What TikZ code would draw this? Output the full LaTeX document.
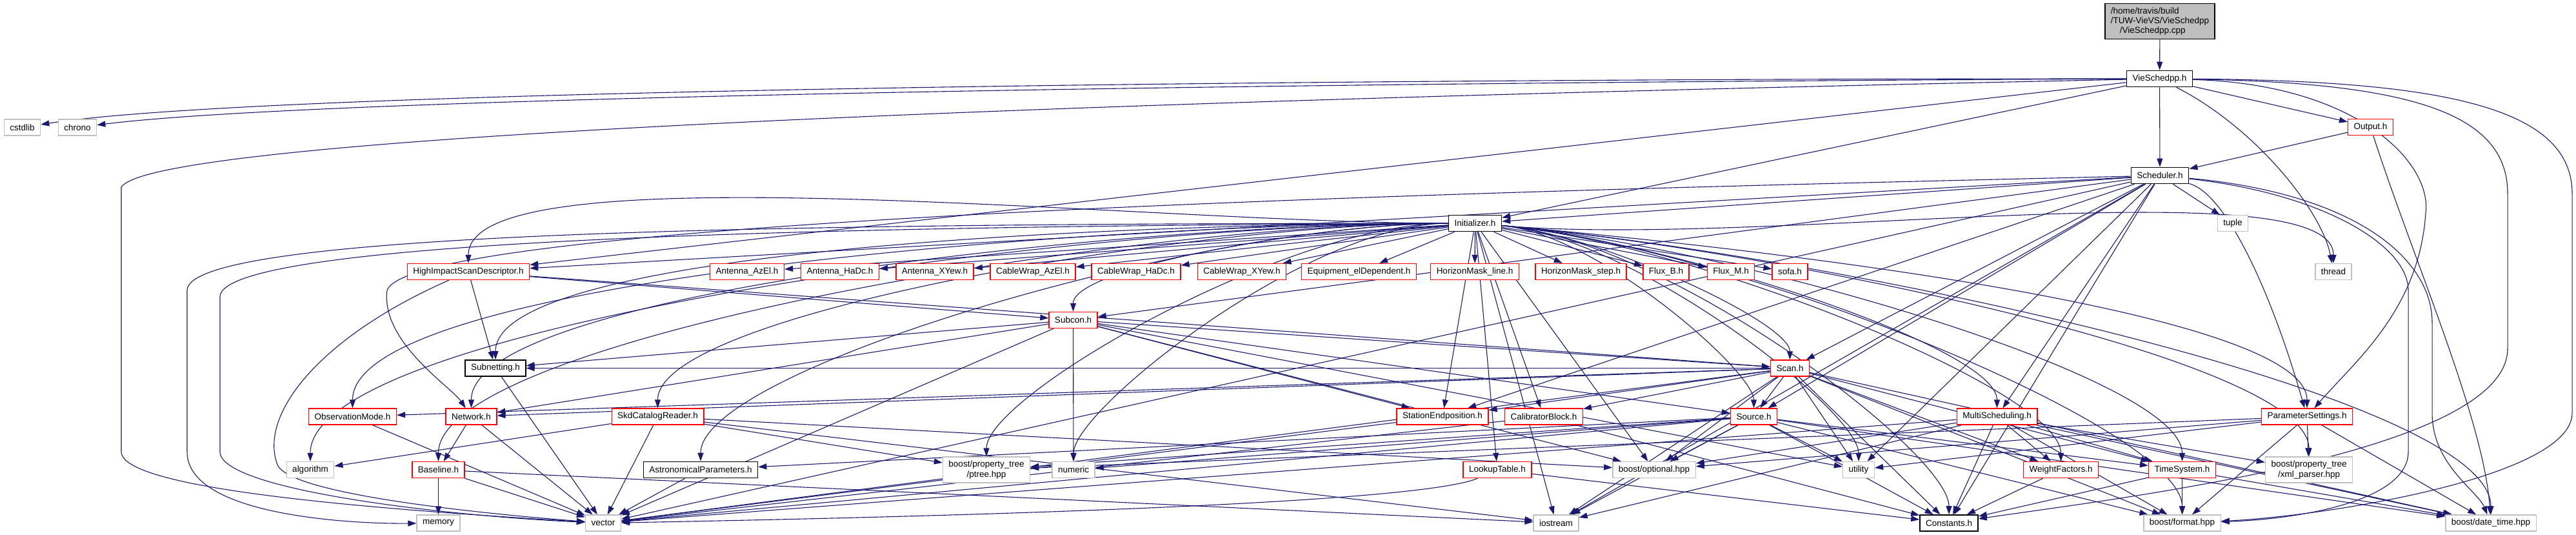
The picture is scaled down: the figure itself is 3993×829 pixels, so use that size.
\documentclass[tikz,border=0pt]{standalone}
\usepackage{fontspec}
\setmainfont{Liberation Sans}
\usepackage{tikz}
\usetikzlibrary{arrows.meta,backgrounds}
\definecolor{linkblue}{HTML}{191970}
\definecolor{redline}{HTML}{FF0000}
\definecolor{sysgray}{HTML}{BFBFBF}
\definecolor{rootfill}{HTML}{BFBFBF}

\tikzset{
  filebox/.style={fill=white,minimum height=12.5pt,inner xsep=4.5pt,inner ysep=1pt,line width=0.6pt},
  docbox/.style={filebox,draw=black,line width=0.8pt},
  redbox/.style={filebox,draw=redline,line width=0.7pt},
  sysbox/.style={filebox,draw=sysgray,line width=0.7pt},
  twoline/.style={align=center,minimum height=20pt},
  dep/.style={draw=linkblue,line width=0.55pt,-{Triangle[length=6.5pt,width=4.5pt]}},
  fanl/.style={out=180,in=90,out looseness=0.8,in looseness=0.3},
  fanr/.style={out=-5,in=90,out looseness=0.8,in looseness=0.3},
}

\begin{document}
\begin{tikzpicture}[x=0.5pt,y=-0.5pt,font=\fontsize{6.75}{7.6}\selectfont]
  \useasboundingbox (0,0) rectangle (3993,829);

  % Top of the graph.
  \node[docbox,fill=rootfill,align=left,minimum height=27.5pt] (root) at (3348,33)
    {/home/travis/build\\/TUW-VieVS/VieSchedpp\\\hspace*{7pt}/VieSchedpp.cpp};
  \node[docbox] (vsh) at (3347.5,122) {VieSchedpp.h};
  \node[redbox] (outh) at (3674.5,197) {Output.h};
  \node[sysbox] (cstdlib) at (34.5,197.5) {cstdlib};
  \node[sysbox] (chrono) at (120,197.5) {chrono};
  \node[docbox] (sched) at (3348,272) {Scheduler.h};
  \node[docbox] (init) at (2286.5,346) {Initializer.h};
  \node[sysbox] (tuple) at (3461,346) {tuple};

  % Row of headers under Initializer.h.
  \node[redbox] (hisd) at (726,421) {HighImpactScanDescriptor.h};
  \node[redbox] (antazel) at (1158,421) {Antenna\_AzEl.h};
  \node[redbox] (anthadc) at (1302,421) {Antenna\_HaDc.h};
  \node[redbox] (antxyew) at (1449,421) {Antenna\_XYew.h};
  \node[redbox] (cwazel) at (1601,421) {CableWrap\_AzEl.h};
  \node[redbox] (cwhadc) at (1761,421) {CableWrap\_HaDc.h};
  \node[redbox] (cwxyew) at (1925,421) {CableWrap\_XYew.h};
  \node[redbox] (eldep) at (2106.5,421) {Equipment\_elDependent.h};
  \node[redbox] (hmline) at (2286,421) {HorizonMask\_line.h};
  \node[redbox] (hmstep) at (2450.5,421) {HorizonMask\_step.h};
  \node[redbox] (fluxb) at (2582.5,421) {Flux\_B.h};
  \node[redbox] (fluxm) at (2683,421) {Flux\_M.h};
  \node[redbox] (sofa) at (2774.5,421) {sofa.h};
  \node[sysbox] (thread) at (3617,421) {thread};

  \node[redbox] (subcon) at (1663.5,496) {Subcon.h};
  \node[docbox] (subnet) at (768,570.5) {Subnetting.h};
  \node[redbox] (scan) at (2774.5,570.5) {Scan.h};

  \node[redbox] (obsmode) at (546.5,645.5) {ObservationMode.h};
  \node[redbox] (network) at (730.5,645.5) {Network.h};
  \node[redbox] (skdcat) at (1019.5,645.5) {SkdCatalogReader.h};
  \node[redbox] (stendp) at (2236,645.5) {StationEndposition.h};
  \node[redbox] (calib) at (2393,645.5) {CalibratorBlock.h};
  \node[redbox] (source) at (2718.5,645.5) {Source.h};
  \node[redbox] (multi) at (3095.5,645.5) {MultiScheduling.h};
  \node[redbox] (params) at (3576,645.5) {ParameterSettings.h};

  \node[sysbox] (algorithm) at (481,728) {algorithm};
  \node[redbox] (baseline) at (679.5,728) {Baseline.h};
  \node[docbox] (astro) at (1086,728) {AstronomicalParameters.h};
  \node[sysbox,twoline] (ptree) at (1529,728) {boost/property\_tree\\/ptree.hpp};
  \node[sysbox] (numeric) at (1664,728) {numeric};
  \node[redbox] (lookup) at (2321,728) {LookupTable.h};
  \node[sysbox] (optional) at (2564,728) {boost/optional.hpp};
  \node[sysbox] (utility) at (2881,728) {utility};
  \node[redbox] (weight) at (3194.5,728) {WeightFactors.h};
  \node[redbox] (timesys) at (3382.5,728) {TimeSystem.h};
  \node[sysbox,twoline] (xmlp) at (3579,728) {boost/property\_tree\\/xml\_parser.hpp};

  \node[sysbox] (memory) at (679.5,810.5) {memory};
  \node[sysbox] (vector) at (935,810.5) {vector};
  \node[sysbox] (iostream) at (2412,810.5) {iostream};
  \node[docbox] (consts) at (3021,810.5) {Constants.h};
  \node[sysbox] (format) at (3382.5,810.5) {boost/format.hpp};
  \node[sysbox] (datetime) at (3861,810.5) {boost/date\_time.hpp};

  \begin{scope}[on background layer]
    \draw[dep] (root) -- (vsh);

    % VieSchedpp.h
    \draw[dep] (vsh) .. controls (2000,122) and (400,140) .. (cstdlib);
    \draw[dep] (vsh) .. controls (2000,128) and (500,150) .. (chrono);
    \draw[dep] (vsh) .. controls (2500,140) and (250,190) .. (188,290)
      -- (188,700) .. controls (188,760) and (600,790) .. (vector);
    \foreach \tgt in {hisd,init,sched,outh}
      \draw[dep] (vsh) -- (\tgt);
    \draw[dep] (vsh) .. controls (3500,200) and (3600,330) .. (thread);
    \draw[dep] (vsh) .. controls (3650,130) and (3770,250) .. (3760,330)
      .. controls (3750,480) and (3650,560) .. (params);
    \draw[dep] (vsh) .. controls (3800,125) and (3987,170) .. (3987,300)
      -- (3987,640) .. controls (3987,740) and (3600,800) .. (format);
    \draw[dep] (vsh) .. controls (3750,128) and (3887,180) .. (3887,300)
      -- (3887,540) .. controls (3887,700) and (3300,770) .. (consts);

    % Output.h
    \draw[dep] (outh) -- (sched);
    \draw[dep] (outh) .. controls (3740,400) and (3850,650) .. (datetime);

    % Scheduler.h
    \foreach \tgt in {init,hisd,tuple,subcon,scan,source,stendp,utility,multi,consts,iostream,vector}
      \draw[dep] (sched) -- (\tgt);
    \draw[dep] (sched) .. controls (3450,300) and (3520,450) .. (params);
    \draw[dep] (sched) .. controls (2600,290) and (640,330) .. (600,450)
      .. controls (590,530) and (700,600) .. (network);
    \draw[dep] (sched) .. controls (3600,300) and (3733,380) .. (3733,450)
      -- (3733,700) .. controls (3733,780) and (3550,805) .. (format);
    \draw[dep] (sched) .. controls (3650,300) and (3770,400) .. (3770,500)
      -- (3770,640) .. controls (3770,720) and (3840,760) .. (datetime);

    % Initializer.h
    \foreach \tgt in {antazel,anthadc,antxyew,cwazel,cwhadc,cwxyew,eldep,hmline,hmstep,fluxb,fluxm,sofa,stendp,calib,lookup,optional,iostream}
      \draw[dep] (init) -- (\tgt);
    \foreach \tgt in {hisd,subcon,subnet,network,obsmode,skdcat,astro,algorithm,baseline,ptree,numeric}
      \draw[dep] (init) to[fanl] (\tgt);
    \foreach \tgt in {thread,scan,source,utility,multi,weight,timesys,params,xmlp,consts,format,datetime}
      \draw[dep] (init) to[fanr] (\tgt);
    \draw[dep] (init) .. controls (1200,346) and (290,360) .. (290,450)
      -- (290,700) .. controls (290,800) and (550,812) .. (memory);
    \draw[dep] (init) .. controls (1300,350) and (341,370) .. (341,460)
      -- (341,700) .. controls (341,760) and (700,800) .. (vector);

    % HighImpactScanDescriptor.h
    \foreach \tgt in {subnet,scan,subcon}
      \draw[dep] (hisd) -- (\tgt);
    \draw[dep] (hisd) .. controls (500,520) and (400,640) .. (430,720)
      .. controls (450,770) and (800,800) .. (vector);

    % Subcon.h
    \foreach \tgt in {subnet,network,scan,numeric,stendp,source,optional,vector,utility}
      \draw[dep] (subcon) -- (\tgt);

    \draw[dep] (subnet) -- (vector);
    \draw[dep] (obsmode) -- (vector);
    \foreach \tgt in {baseline,vector}
      \draw[dep] (network) -- (\tgt);
    \foreach \tgt in {memory,vector,iostream}
      \draw[dep] (baseline) -- (\tgt);
    \foreach \tgt in {algorithm,ptree,vector,optional,iostream}
      \draw[dep] (skdcat) -- (\tgt);
    \draw[dep] (astro) -- (vector);

    % Scan.h
    \foreach \tgt in {network,obsmode,subnet,stendp,calib,source,optional,utility,iostream,vector,consts,timesys,weight,datetime,format}
      \draw[dep] (scan) -- (\tgt);

    % Source.h
    \foreach \tgt in {optional,utility,iostream,consts,format,datetime,timesys,vector,numeric,astro,ptree}
      \draw[dep] (source) -- (\tgt);

    \draw[dep] (stendp) -- (vector);
    \foreach \tgt in {vector,consts}
      \draw[dep] (calib) -- (\tgt);
    \draw[dep] (lookup) .. controls (2200,780) and (1500,800) .. (vector);
    \draw[dep] (lookup) -- (consts);

    % MultiScheduling.h
    \foreach \tgt in {weight,consts,format,xmlp,datetime,iostream,vector,optional,timesys}
      \draw[dep] (multi) -- (\tgt);

    % ParameterSettings.h
    \foreach \tgt in {xmlp,datetime,format,utility,ptree,optional}
      \draw[dep] (params) -- (\tgt);

    \draw[dep] (weight) -- (consts);
    \foreach \tgt in {consts,format,datetime}
      \draw[dep] (timesys) -- (\tgt);
  \end{scope}
\end{tikzpicture}
\end{document}
